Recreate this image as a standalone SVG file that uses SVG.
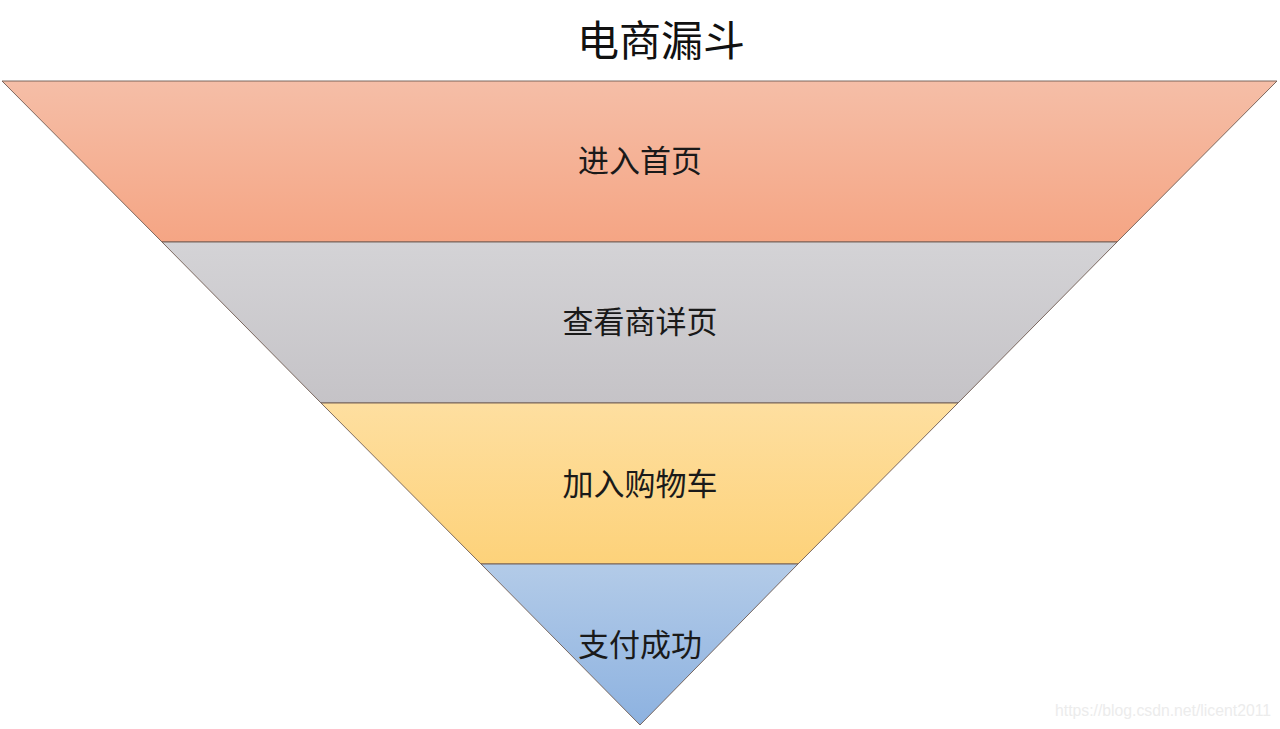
<svg xmlns="http://www.w3.org/2000/svg" width="1280" height="729" viewBox="0 0 1280 729">
<defs>
<linearGradient id="g1" x1="0" y1="0" x2="0" y2="1"><stop offset="0" stop-color="#F5BEA7"/><stop offset="1" stop-color="#F5A584"/></linearGradient>
<linearGradient id="g2" x1="0" y1="0" x2="0" y2="1"><stop offset="0" stop-color="#D4D3D6"/><stop offset="1" stop-color="#C5C3C7"/></linearGradient>
<linearGradient id="g3" x1="0" y1="0" x2="0" y2="1"><stop offset="0" stop-color="#FEDFA0"/><stop offset="1" stop-color="#FDD27A"/></linearGradient>
<linearGradient id="g4" x1="0" y1="0" x2="0" y2="1"><stop offset="0" stop-color="#B3CBE8"/><stop offset="1" stop-color="#8DB2E0"/></linearGradient>
</defs>
<style>
.band{stroke:#6e5a50;stroke-width:0.9}
.lbl{font-family:"Microsoft YaHei","Noto Sans CJK SC",sans-serif;font-size:31px;fill:#1a1a1a;text-anchor:middle}
.title{font-family:"Microsoft YaHei","Noto Sans CJK SC",sans-serif;font-size:42px;fill:#111;text-anchor:middle}
.wm{font-family:"Liberation Sans",Arial,sans-serif;font-size:16px;fill:#ececec}
</style>
<rect width="1280" height="729" fill="#ffffff"/>
<text class="title" x="661" y="56">电商漏斗</text>
<g id="stage1"><polygon class="band" fill="url(#g1)" points="2,81 1277,81 1117,242 162,242"/><text class="lbl" x="640" y="172">进入首页</text></g>
<g id="stage2"><polygon class="band" fill="url(#g2)" points="162,242 1117,242 958,403 321,403"/><text class="lbl" x="640" y="333">查看商详页</text></g>
<g id="stage3"><polygon class="band" fill="url(#g3)" points="321,403 958,403 798,564 481,564"/><text class="lbl" x="640" y="495">加入购物车</text></g>
<g id="stage4"><polygon class="band" fill="url(#g4)" points="481,564 798,564 640,725"/><text class="lbl" x="640" y="656">支付成功</text></g>
<g id="connectors"></g>
<text class="wm" x="1055" y="716" textLength="216" lengthAdjust="spacingAndGlyphs">https://blog.csdn.net/licent2011</text>
</svg>
